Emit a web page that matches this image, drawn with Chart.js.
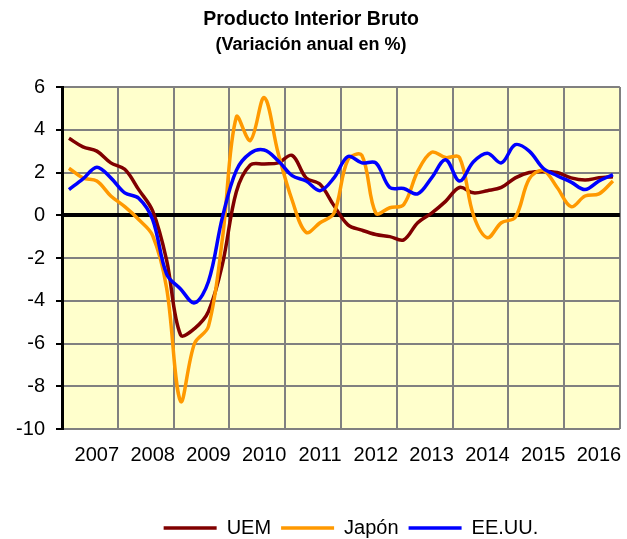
<!DOCTYPE html>
<html>
<head>
<meta charset="utf-8">
<script src="https://cdn.jsdelivr.net/npm/chart.js@4"></script>
<style>
  html, body { margin: 0; padding: 0; background: #ffffff; }
</style>
</head>
<body>
<canvas id="gdp" width="627" height="539"></canvas>
<script>
// years on the axis, one label per year (4 quarters each)
const YEARS = ['2007', '2008', '2009', '2010', '2011', '2012', '2013', '2014', '2015', '2016'];
const QUARTERS = YEARS.flatMap(y => ['T1', 'T2', 'T3', 'T4'].map(q => q + ' ' + y));

// PIB, variación anual en %, trimestral
const UEM = [3.6, 3.2, 3.0, 2.45, 2.15, 1.2, 0.2, -2.1,
             -5.6, -5.3, -4.5, -2.3, 1.1, 2.35, 2.4, 2.45,
             2.8, 1.75, 1.45, 0.45, -0.45, -0.7, -0.9, -1.0,
             -1.15, -0.35, 0.1, 0.65, 1.3, 1.05, 1.15, 1.3,
             1.75, 2.0, 2.05, 2.0, 1.75, 1.65, 1.75, 1.8];
const JAPON = [2.2, 1.75, 1.6, 0.9, 0.4, -0.2, -0.95, -3.4,
               -8.7, -6.0, -5.2, -1.1, 4.6, 3.5, 5.5, 2.9,
               0.7, -0.8, -0.35, 0.1, 2.6, 2.8, 0.1, 0.35,
               0.5, 2.05, 2.95, 2.7, 2.7, 0.0, -1.05, -0.35,
               -0.1, 1.7, 2.1, 1.3, 0.4, 0.9, 1.0, 1.6];
const EEUU = [1.2, 1.7, 2.25, 1.75, 1.05, 0.8, -0.2, -2.75,
              -3.45, -4.1, -3.1, -0.1, 2.1, 2.9, 3.05, 2.55,
              1.85, 1.6, 1.15, 1.75, 2.75, 2.45, 2.45, 1.3,
              1.25, 1.0, 1.75, 2.6, 1.6, 2.5, 2.9, 2.45,
              3.3, 3.0, 2.2, 1.85, 1.55, 1.2, 1.6, 1.9];

const Y_MIN = -10;
const Y_MAX = 6;
const Y_STEP = 2;

const FONT = "'Liberation Sans', Arial, sans-serif";
Chart.defaults.font.family = FONT;
Chart.defaults.color = '#000000';

// yellow plot area
const plotBackground = {
    id: 'plotBackground',
    beforeDraw(chart) {
        const { ctx, chartArea } = chart;
        ctx.save();
        ctx.fillStyle = '#FFFFCC';
        ctx.fillRect(chartArea.left, chartArea.top, chartArea.width, chartArea.height);
        ctx.restore();
    }
};

// legend sits a bit right of the plot centre in the original
const legendShift = {
    id: 'legendShift',
    afterLayout(chart) {
        chart.legend.left += 20;
    }
};

const makeSeries = (label, data, color, order) => ({
    label: label,
    data: data,
    borderColor: color,
    backgroundColor: color,
    borderWidth: 3.5,
    pointRadius: 0,
    tension: 0.35,
    order: order
});

new Chart(document.getElementById('gdp'), {
    type: 'line',
    data: {
        labels: QUARTERS,
        datasets: [
            makeSeries('UEM', UEM, '#800000', 3),
            makeSeries('Japón', JAPON, '#FF9900', 2),
            makeSeries('EE.UU.', EEUU, '#0000FF', 1)
        ]
    },
    plugins: [plotBackground, legendShift],
    options: {
        responsive: false,
        animation: false,
        devicePixelRatio: 1,
        layout: { padding: { left: 0, right: 5, top: 0, bottom: 0 } },
        scales: {
            x: {
                type: 'category',
                offset: true,
                grid: {
                    offset: true,
                    drawTicks: false,
                    z: -2,
                    lineWidth: 2,
                    color: c => (c.index === undefined || c.index % 4 === 0) ? '#808080' : 'rgba(0,0,0,0)'
                },
                border: { display: false },
                ticks: {
                    autoSkip: false,
                    maxRotation: 0,
                    minRotation: 0,
                    padding: 14,
                    color: '#000000',
                    font: { size: 20 },
                    callback: (v, i) => i % 4 === 2 ? YEARS[Math.floor(i / 4)] : ''
                },
                afterFit(scale) { scale.height = 79; }
            },
            y: {
                min: Y_MIN,
                max: Y_MAX,
                ticks: {
                    stepSize: Y_STEP,
                    padding: 11,
                    color: '#000000',
                    font: { size: 20 }
                },
                grid: {
                    z: -1,
                    color: c => (c.tick && c.tick.value === 0) ? '#000000' : '#808080',
                    lineWidth: c => (c.tick && c.tick.value === 0) ? 4 : 2,
                    tickColor: '#000000',
                    tickLength: 6,
                    tickWidth: 2
                },
                border: { color: '#000000', width: 3 },
                afterFit(scale) { scale.width = 62; }
            }
        },
        plugins: {
            title: {
                display: true,
                text: 'Producto Interior Bruto',
                color: '#000000',
                font: { size: 19.5, weight: 'bold', lineHeight: 1 },
                padding: { top: 10, bottom: 0 }
            },
            subtitle: {
                display: true,
                text: '(Variación anual en %)',
                color: '#000000',
                font: { size: 18, weight: 'bold', lineHeight: 1 },
                padding: { top: 6.5, bottom: 33 }
            },
            legend: {
                position: 'bottom',
                fullSize: false,
                maxHeight: 31,
                labels: {
                    usePointStyle: true,
                    pointStyle: 'line',
                    pointStyleWidth: 53,
                    padding: 10,
                    color: '#000000',
                    font: { size: 20 },
                    sort: (a, b) => a.datasetIndex - b.datasetIndex
                }
            },
            tooltip: { enabled: false }
        }
    }
});
</script>
</body>
</html>
